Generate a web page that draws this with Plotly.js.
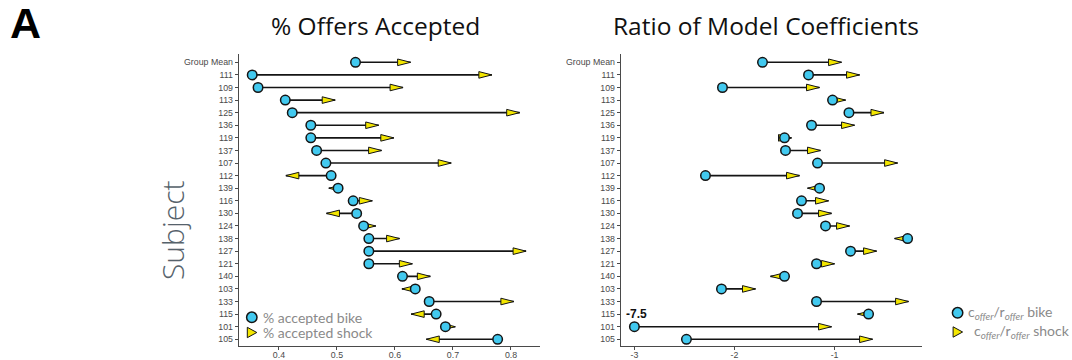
<!DOCTYPE html>
<html>
<head>
<meta charset="utf-8">
<script src="https://cdn.plot.ly/plotly-3.0.1.min.js"></script>
<style>html,body{margin:0;padding:0;background:#fff;}#chart{width:1072px;height:360px;}</style>
</head>
<body>
<div id="chart"></div>
<script>
// ---- data ----
const subjects = ["Group Mean","111","109","113","125","136","119","137","107","112","139","116","130","124","138","127","121","140","103","133","115","101","105"];
const acceptBike  = [0.532,0.354,0.364,0.411,0.423,0.455,0.455,0.465,0.481,0.490,0.502,0.528,0.534,0.546,0.555,0.555,0.555,0.613,0.635,0.659,0.671,0.687,0.777];
const acceptShock = [0.627,0.767,0.614,0.497,0.815,0.572,0.598,0.577,0.697,0.412,0.486,0.561,0.482,0.567,0.608,0.826,0.630,0.661,0.612,0.805,0.628,0.704,0.654];
const ratioBike   = [-1.72,-1.26,-2.12,-1.02,-0.856,-1.23,-1.50,-1.49,-1.17,-2.29,-1.15,-1.33,-1.37,-1.09,-0.27,-0.84,-1.18,-1.50,-2.13,-1.18,-0.66,-7.5,-2.48];
const ratioShock  = [-0.93,-0.75,-1.15,-0.89,-0.506,-0.80,-1.43,-1.14,-0.37,-1.35,-1.27,-1.06,-1.03,-0.85,-0.40,-0.58,-1.00,-1.64,-1.79,-0.26,-0.77,-1.03,-0.62];
const acceptTicks = [0.4,0.5,0.6,0.7,0.8];
const acceptTickText = ["0.4","0.5","0.6","0.7","0.8"];
const ratioTicks = [-3,-2,-1];
const ratioTickText = ["-3","-2","-1"];
const ratioFloor = -3;

// ---- styles ----
const W = 1072, H = 360;
const CYAN = "#42c9ef", YELLOW = "#f3e600", INK = "#141414";
const tickFont = {family: "Arial, 'Liberation Sans', sans-serif", size: 8.8, color: "#4a4a4a"};
const titleFont = "'Open Sans', Lato, sans-serif";
const textFont = "Lato, 'Open Sans', sans-serif";
const px = v => v / W, py = v => 1 - v / H;

const rows = subjects.map((_, i) => i);
const shapes = [];
function addArrows(bike, shock, xr, yr, floor) {
  bike.forEach((b0, i) => {
    const b = floor == null ? b0 : Math.max(b0, floor);
    const s = shock[i];
    shapes.push({type: "line", xref: xr, yref: yr, x0: b, x1: s, y0: i, y1: i,
      layer: "below", line: {color: INK, width: 1.6}});
    const d = s >= b ? 1 : -1;
    shapes.push({type: "path", xref: xr, yref: yr, xsizemode: "pixel", ysizemode: "pixel",
      xanchor: s, yanchor: i, path: `M0,0L${-d*13},3.3L${-d*13},-3.3Z`,
      fillcolor: YELLOW, line: {color: INK, width: 1}, layer: "below"});
  });
}
addArrows(acceptBike, acceptShock, "x", "y", null);
addArrows(ratioBike, ratioShock, "x2", "y2", ratioFloor);

// legend glyphs
function legendGlyphs(cx, cy1, cy2) {
  shapes.push({type: "circle", xref: "paper", yref: "paper", xsizemode: "pixel", ysizemode: "pixel",
    xanchor: px(cx), yanchor: py(cy1), x0: -5.2, x1: 5.2, y0: -5.2, y1: 5.2,
    fillcolor: CYAN, line: {color: INK, width: 1.5}});
  shapes.push({type: "path", xref: "paper", yref: "paper", xsizemode: "pixel", ysizemode: "pixel",
    xanchor: px(cx), yanchor: py(cy2), path: "M-4.5,-5.2L-4.5,5.2L5,0Z",
    fillcolor: YELLOW, line: {color: INK, width: 1}});
}
legendGlyphs(251.8, 317.3, 332.5);
legendGlyphs(957.6, 312.8, 332);

const markerStyle = {size: 9.5, color: CYAN, line: {color: INK, width: 1.5}};
const traces = [
  {x: acceptBike, y: rows, xaxis: "x", yaxis: "y", mode: "markers", marker: markerStyle,
   cliponaxis: false, showlegend: false, name: "% accepted bike"},
  {x: ratioBike.map(v => Math.max(v, ratioFloor)), y: rows, xaxis: "x2", yaxis: "y2", mode: "markers",
   marker: markerStyle, cliponaxis: false, showlegend: false, name: "c/r bike"}
];

const yBase = {tickmode: "array", tickvals: rows, ticktext: subjects, range: [22.51, -0.66],
  domain: [py(345.7), py(54)], showline: true, linecolor: "#4a4a4a", linewidth: 1,
  ticks: "outside", ticklen: 3, tickcolor: "#4a4a4a", tickfont: tickFont,
  showgrid: false, zeroline: false, fixedrange: true};
const xBase = {showline: true, linecolor: "#4a4a4a", linewidth: 1, ticks: "outside", ticklen: 3,
  tickcolor: "#4a4a4a", tickfont: tickFont, showgrid: false, zeroline: false, tickmode: "array",
  ticklabelstandoff: -2};

function note(text, x, y, font, extra) {
  return Object.assign({text: text, x: px(x), y: py(y), xref: "paper", yref: "paper", showarrow: false,
    xanchor: "center", yanchor: "middle", font: font}, extra || {});
}
const legendFont = {family: textFont, size: 14, color: "#8a8a8a"};
const i101 = subjects.indexOf("101");
const annotations = [
  note("<b>A</b>", 25, 22.5, {family: "Arial, 'Liberation Sans', sans-serif", size: 43, color: "#000"}),
  note("% Offers Accepted", 375, 26, {family: titleFont, size: 24.5, color: "#111"}),
  note("Ratio of Model Coefficients", 766, 26, {family: titleFont, size: 24.5, color: "#111"}),
  note("Subject", 172, 231, {family: titleFont, size: 30, weight: 300, color: "#56626b"}, {textangle: -90}),
  note("% accepted bike", 261, 317.3, legendFont, {xanchor: "left"}),
  note("% accepted shock", 261, 332.8, legendFont, {xanchor: "left"}),
  note("c<sub><i>offer</i></sub>/r<sub><i>offer</i></sub> bike", 966, 312, legendFont, {xanchor: "left"}),
  note("c<sub><i>offer</i></sub>/r<sub><i>offer</i></sub> shock", 972, 331, legendFont, {xanchor: "left"}),
  {text: "<b>" + String(ratioBike[i101]) + "</b>", x: Math.max(ratioBike[i101], ratioFloor), y: i101,
   xref: "x2", yref: "y2", xshift: 2, yshift: 13, showarrow: false, xanchor: "center", yanchor: "middle",
   font: {family: "Arial, 'Liberation Sans', sans-serif", size: 12, color: "#111"}}
];

const layout = {
  width: W, height: H, margin: {l: 0, r: 0, t: 0, b: 0},
  paper_bgcolor: "#fff", plot_bgcolor: "#fff", showlegend: false,
  xaxis: Object.assign({}, xBase, {domain: [px(238.7), px(540)], range: [0.3307, 0.85],
    tickvals: acceptTicks, ticktext: acceptTickText, anchor: "y"}),
  yaxis: Object.assign({}, yBase, {anchor: "x"}),
  xaxis2: Object.assign({}, xBase, {domain: [px(620.7), px(922.3)], range: [-3.137, -0.123],
    tickvals: ratioTicks, ticktext: ratioTickText, anchor: "y2"}),
  yaxis2: Object.assign({}, yBase, {anchor: "x2"}),
  shapes: shapes, annotations: annotations
};

Plotly.newPlot("chart", traces, layout, {staticPlot: true, displayModeBar: false});
</script>
</body>
</html>
